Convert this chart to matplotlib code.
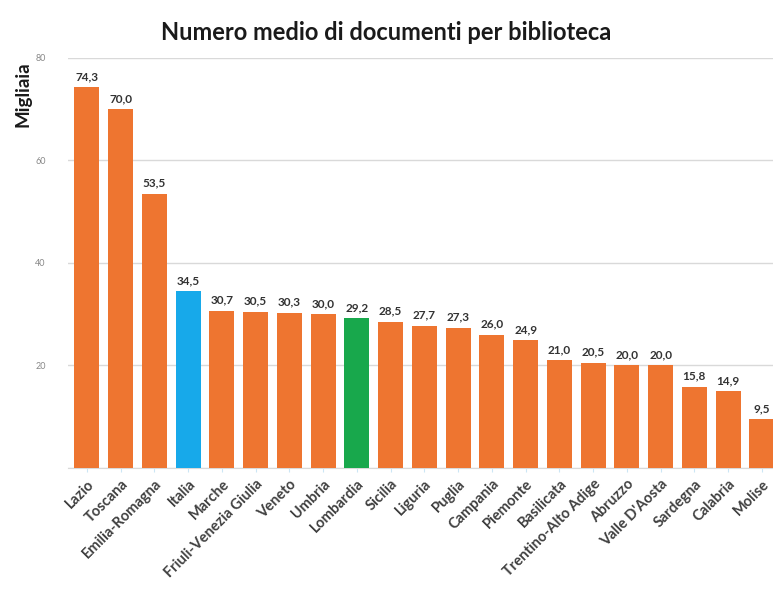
import matplotlib.pyplot as plt

regioni = ['Lazio', 'Toscana', 'Emilia-Romagna', 'Italia', 'Marche', 'Friuli-Venezia Giulia',
           'Veneto', 'Umbria', 'Lombardia', 'Sicilia', 'Liguria', 'Puglia', 'Campania',
           'Piemonte', 'Basilicata', 'Trentino-Alto Adige', 'Abruzzo', "Valle D'Aosta",
           'Sardegna', 'Calabria', 'Molise']
documenti = [74.3, 70.0, 53.5, 34.5, 30.7, 30.5, 30.3, 30.0, 29.2, 28.5, 27.7, 27.3,
             26.0, 24.9, 21.0, 20.5, 20.0, 20.0, 15.8, 14.9, 9.5]

plt.rcParams['font.family'] = ['Lato', 'DejaVu Sans']

colori = []
for r in regioni:
    if r == 'Italia':
        colori.append('#17a9ea')
    elif r == 'Lombardia':
        colori.append('#18a84c')
    else:
        colori.append('#ee7530')

fig = plt.figure(figsize=(7.73, 5.9), dpi=100)
ax = fig.add_axes([0.088, 0.207, 0.912, 0.695])

x = range(len(regioni))
ax.bar(x, documenti, width=0.74, color=colori, zorder=3)

for i, v in enumerate(documenti):
    ax.text(i, v + 1.0, f'{v:.1f}'.replace('.', ','), ha='center', va='bottom',
            fontsize=8.5, fontweight='bold', color='#333333')

ax.set_ylim(0, 80)
ax.set_xlim(-0.56, len(regioni) - 0.67)
ax.set_yticks([0, 20, 40, 60, 80])
ax.set_yticklabels(['', '20', '40', '60', '80'], fontsize=6.5, color='#888888')
ax.yaxis.grid(True, color='#d9d9d9', linewidth=1, zorder=0)
ax.tick_params(axis='y', length=0, pad=16)
ax.tick_params(axis='x', length=3, color='#cce6f5')

ax.set_xticks(list(x))
ax.set_xticklabels(regioni, rotation=45, ha='right', rotation_mode='anchor',
                   fontsize=10.5, fontweight='bold', color='#404040')

for s in ['top', 'right', 'left']:
    ax.spines[s].set_visible(False)
ax.spines['bottom'].set_color('#d9d9d9')

fig.text(0.5, 0.932, 'Numero medio di documenti per biblioteca', ha='center',
         fontsize=17, fontweight='bold', color='#1a1a1a')
fig.text(0.03, 0.84, 'Migliaia', rotation=90, ha='center', va='center',
         fontsize=13.5, fontweight='bold', color='#1a1a1a')

fig.savefig('out.png', dpi=100)
